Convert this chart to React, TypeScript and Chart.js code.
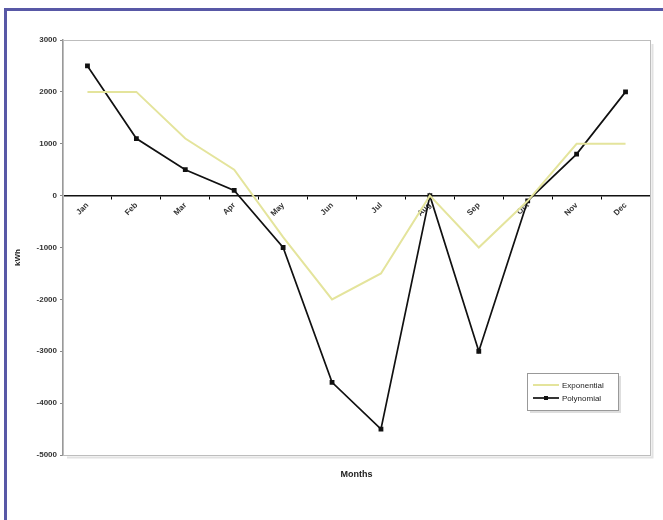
import React, { useEffect, useRef } from 'react';
import { Chart, registerables } from 'chart.js';

Chart.register(...registerables);

// Monthly values (kWh)
const months = ['Jan', 'Feb', 'Mar', 'Apr', 'May', 'Jun', 'Jul', 'Aug', 'Sep', 'Oct', 'Nov', 'Dec'];
const exponential = [2000, 2000, 1100, 500, -800, -2000, -1500, 0, -1000, -100, 1000, 1000];
const polynomial = [2500, 1100, 500, 100, -1000, -3600, -4500, 0, -3000, -100, 800, 2000];
const seriesNames = ['Exponential', 'Polynomial'];
const yMin = -5000;
const yMax = 3000;
const yStep = 1000;
const xTitle = 'Months';
const yTitle = 'kWh';

const FONT = '"Liberation Sans", Arial, sans-serif';
const YELLOW = '#e4e49c';

// Frame around the plot area, the axis titles and the legend box
const decorations = {
  id: 'decorations',
  beforeDatasetsDraw(chart: any) {
    const { ctx, chartArea: a } = chart;
    ctx.save();
    ctx.strokeStyle = '#e2e2e2';
    ctx.lineWidth = 2;
    ctx.beginPath();
    ctx.moveTo(a.left + 4, a.bottom + 2.5);
    ctx.lineTo(a.right + 2.5, a.bottom + 2.5);
    ctx.lineTo(a.right + 2.5, a.top + 4);
    ctx.stroke();
    ctx.strokeStyle = '#bdbdbd';
    ctx.lineWidth = 1;
    ctx.strokeRect(a.left + 0.5, a.top + 0.5, a.right - a.left, a.bottom - a.top);
    ctx.restore();
  },
  afterDraw(chart: any) {
    const { ctx, chartArea: a } = chart;
    ctx.save();
    ctx.fillStyle = '#222';
    ctx.font = `bold 9px ${FONT}`;
    ctx.textAlign = 'center';
    ctx.textBaseline = 'middle';
    // x title
    ctx.fillText(xTitle, (a.left + a.right) / 2, a.bottom + 20);
    // y title
    ctx.save();
    ctx.translate(18, (a.top + a.bottom) / 2 + 10);
    ctx.rotate(-Math.PI / 2);
    ctx.font = `bold 8px ${FONT}`;
    ctx.fillText(yTitle, 0, 0);
    ctx.restore();

    // legend
    const bx = a.right - 123;
    const by = a.bottom - 82;
    const bw = 91;
    const bh = 37;
    ctx.fillStyle = '#dedede';
    ctx.fillRect(bx + 3, by + 3, bw, bh);
    ctx.fillStyle = '#fff';
    ctx.fillRect(bx, by, bw, bh);
    ctx.strokeStyle = '#999';
    ctx.lineWidth = 1;
    ctx.strokeRect(bx + 0.5, by + 0.5, bw, bh);
    ctx.font = `8px ${FONT}`;
    ctx.textAlign = 'left';
    chart.data.datasets.forEach((ds: any, i: number) => {
      const y = by + 12 + i * 13;
      ctx.strokeStyle = ds.borderColor;
      ctx.lineWidth = ds.borderWidth;
      ctx.beginPath();
      ctx.moveTo(bx + 6, y);
      ctx.lineTo(bx + 32, y);
      ctx.stroke();
      if (ds.pointRadius > 0) {
        ctx.fillStyle = ds.borderColor;
        ctx.fillRect(bx + 19 - 2, y - 2, 4, 4);
      }
      ctx.fillStyle = '#222';
      ctx.fillText(ds.label, bx + 35, y + 0.5);
    });
    ctx.restore();
  },
};

export default function App() {
  const canvasRef = useRef<HTMLCanvasElement | null>(null);

  useEffect(() => {
    if (!canvasRef.current) return;
    const chart = new Chart(canvasRef.current, {
      type: 'line',
      data: {
        labels: months,
        datasets: [
          {
            label: seriesNames[0],
            data: exponential,
            borderColor: YELLOW,
            backgroundColor: YELLOW,
            borderWidth: 2,
            pointRadius: 0,
            tension: 0,
          },
          {
            label: seriesNames[1],
            data: polynomial,
            borderColor: '#111',
            backgroundColor: '#111',
            borderWidth: 1.7,
            pointStyle: 'rect',
            pointRadius: 2.2,
            tension: 0,
          },
        ],
      },
      options: {
        animation: false,
        responsive: false,
        maintainAspectRatio: false,
        layout: { padding: { top: 40, right: 13, bottom: 65, left: 0 } },
        plugins: {
          legend: { display: false },
          tooltip: { enabled: false },
        },
        scales: {
          x: {
            type: 'category',
            position: { y: 0 },
            offset: true,
            grid: {
              display: true,
              drawOnChartArea: false,
              drawTicks: true,
              tickLength: 3,
              offset: true,
              color: '#000',
            },
            border: { display: true, color: '#111', width: 1.5 },
            ticks: {
              minRotation: 45,
              maxRotation: 45,
              padding: 2,
              color: '#333',
              font: { family: FONT, size: 8, weight: 'bold' },
            },
          },
          y: {
            min: yMin,
            max: yMax,
            afterFit(scale: any) {
              scale.width = 63;
            },
            grid: {
              display: true,
              drawOnChartArea: false,
              drawTicks: true,
              tickLength: 3,
              color: '#888',
            },
            border: { display: true, color: '#999', width: 1.5 },
            ticks: {
              stepSize: yStep,
              padding: 3,
              color: '#333',
              font: { family: FONT, size: 8, weight: 'bold' },
              callback: (v: any) => String(v),
            },
            title: { display: false },
          },
        },
      },
      plugins: [decorations],
    });
    return () => chart.destroy();
  }, []);

  return (
    <div style={{ position: 'fixed', left: 0, top: 0, width: 663, height: 520, background: '#fff', overflow: 'hidden' }}>
      <div
        style={{
          position: 'absolute',
          left: 4,
          top: 8,
          width: 700,
          height: 600,
          borderLeft: '3px solid #5858a6',
          borderTop: '3px solid #5858a6',
          boxSizing: 'border-box',
        }}
      />
      <canvas ref={canvasRef} width={663} height={520} style={{ position: 'absolute', left: 0, top: 0 }} />
    </div>
  );
}
